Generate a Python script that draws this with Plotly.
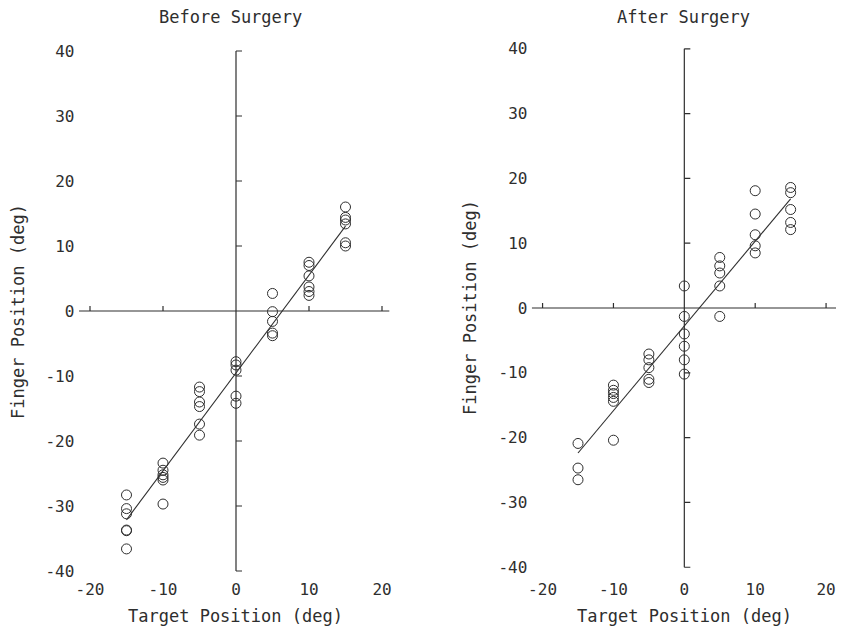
import numpy as np
import plotly.graph_objects as go

# ---------------- data ----------------
target_levels = [-15, -10, -5, 0, 5, 10, 15]

before_m15 = [-28.3, -30.4, -31.2, -33.7, -33.8, -36.6]
before_m10 = [-23.4, -24.5, -25.2, -25.6, -26.0, -29.7]
before_m5 = [-11.7, -12.4, -14.0, -14.7, -17.4, -19.1]
before_0 = [-7.8, -8.3, -9.1, -13.1, -14.2]
before_5 = [2.7, -0.1, -1.6, -3.4, -3.8]
before_10 = [7.5, 7.0, 5.4, 3.7, 3.0, 2.4]
before_15 = [16.0, 14.4, 14.0, 13.4, 10.5, 10.0]

after_m15 = [-20.9, -24.7, -26.5]
after_m10 = [-11.9, -12.7, -13.2, -13.8, -14.4, -20.4]
after_m5 = [-7.1, -8.0, -9.2, -11.0, -11.5]
after_0 = [3.4, -1.3, -4.0, -5.9, -8.0, -10.2]
after_5 = [7.8, 6.5, 5.4, 3.4, -1.3]
after_10 = [18.1, 14.5, 11.3, 9.6, 8.5]
after_15 = [18.6, 17.8, 15.2, 13.2, 12.1]

x_ticks = [-20, -10, 0, 10, 20]
y_ticks = [-40, -30, -20, -10, 0, 10, 20, 30, 40]

panel_titles = ["Before Surgery", "After Surgery"]
x_title = "Target Position (deg)"
y_title = "Finger Position (deg)"

before_groups = [before_m15, before_m10, before_m5, before_0, before_5, before_10, before_15]
after_groups = [after_m15, after_m10, after_m5, after_0, after_5, after_10, after_15]


def flatten(groups):
    xs, ys = [], []
    for lvl, vals in zip(target_levels, groups):
        xs += [lvl] * len(vals)
        ys += list(vals)
    return np.array(xs, float), np.array(ys, float)


INK = "#2e2e2e"
FONT = "DejaVu Sans Mono"
# the page body has an 8px margin; size the figure to fit the window
OFF = 8
W, H = 844 - OFF, 629 - OFF

fig = go.Figure()

panels = [
    dict(groups=before_groups, xa="x", ya="y", xline=(-21.5, 21.0)),
    dict(groups=after_groups, xa="x2", ya="y2", xline=(-21.5, 21.5)),
]

shapes = []
for p in panels:
    xs, ys = flatten(p["groups"])
    fig.add_trace(go.Scatter(
        x=xs, y=ys, mode="markers", xaxis=p["xa"], yaxis=p["ya"],
        marker=dict(symbol="circle-open", size=10, color=INK, line=dict(width=1, color=INK)),
        showlegend=False, hoverinfo="x+y"))
    slope, icpt = np.polyfit(xs, ys, 1)
    fx = np.array([min(target_levels), max(target_levels)], float)
    fig.add_trace(go.Scatter(
        x=fx, y=slope * fx + icpt, mode="lines", xaxis=p["xa"], yaxis=p["ya"],
        line=dict(color=INK, width=1.1), showlegend=False, hoverinfo="skip"))

    # axes crossing at the origin
    shapes.append(dict(type="line", xref=p["xa"], yref=p["ya"], x0=p["xline"][0], x1=p["xline"][1],
                       y0=0, y1=0, line=dict(color=INK, width=1.2)))
    shapes.append(dict(type="line", xref=p["xa"], yref=p["ya"], x0=0, x1=0,
                       y0=min(y_ticks), y1=max(y_ticks), line=dict(color=INK, width=1.2)))
    for yv in y_ticks:
        if yv == 0:
            continue
        shapes.append(dict(type="line", xref=p["xa"], yref=p["ya"], xsizemode="pixel", xanchor=0,
                           x0=0, x1=6, y0=yv, y1=yv, line=dict(color=INK, width=1.2)))
    for xv in x_ticks:
        if xv == 0:
            continue
        shapes.append(dict(type="line", xref=p["xa"], yref=p["ya"], ysizemode="pixel", yanchor=0,
                           y0=0, y1=5, x0=xv, x1=xv, line=dict(color=INK, width=1.2)))

tickfont = dict(family=FONT, size=16, color=INK)

ax_common = dict(showgrid=False, zeroline=False, showline=False, ticks="",
                 tickvals=x_ticks, ticktext=[str(v) for v in x_ticks], tickfont=tickfont,
                 fixedrange=True, automargin=False, ticklabeloverflow="allow")
ay_common = dict(showgrid=False, zeroline=False, showline=False, ticks="",
                 tickvals=y_ticks, ticktext=[str(v) for v in y_ticks], tickfont=tickfont,
                 fixedrange=True, automargin=False)


# pixel-based domains (screen pixels -> figure fractions)
def xdom(left, right):
    return [(left - OFF) / W, (right - OFF) / W]


def ydom(top, bottom):
    return [1 - (bottom - OFF) / H, 1 - (top - OFF) / H]


def px(sx):
    return (sx - OFF) / W


def py(sy):
    return 1 - (sy - OFF) / H


fig.update_layout(
    width=W, height=H,
    margin=dict(l=0, r=0, t=0, b=0),
    paper_bgcolor="white", plot_bgcolor="white",
    xaxis=dict(ax_common, range=[-22, 22], domain=xdom(75.4, 396.6), anchor="y"),
    yaxis=dict(ay_common, range=[-41, 41], domain=ydom(44.5, 577.5), anchor="x"),
    xaxis2=dict(ax_common, range=[-22, 21.5], domain=xdom(528.4, 836.7), anchor="y2"),
    yaxis2=dict(ay_common, range=[-41.6, 41], domain=ydom(42.3, 577.6), anchor="x2"),
    shapes=shapes,
    font=dict(family=FONT, color=INK),
)

ann = []
for title, cx in zip(panel_titles, [230, 683]):
    ann.append(dict(text=title, x=px(cx), y=py(17), xref="paper", yref="paper",
                    xanchor="center", yanchor="middle", showarrow=False,
                    font=dict(family=FONT, size=17, color=INK)))
for cx in [235, 684]:
    ann.append(dict(text=x_title, x=px(cx), y=py(616), xref="paper", yref="paper",
                    xanchor="center", yanchor="middle", showarrow=False,
                    font=dict(family=FONT, size=17, color=INK)))
for cx, cy in [(18, 312), (470, 308)]:
    ann.append(dict(text=y_title, x=px(cx), y=py(cy), xref="paper", yref="paper",
                    xanchor="center", yanchor="middle", textangle=-90, showarrow=False,
                    font=dict(family=FONT, size=17, color=INK)))
fig.update_layout(annotations=ann)

fig.write_html("out.html")
